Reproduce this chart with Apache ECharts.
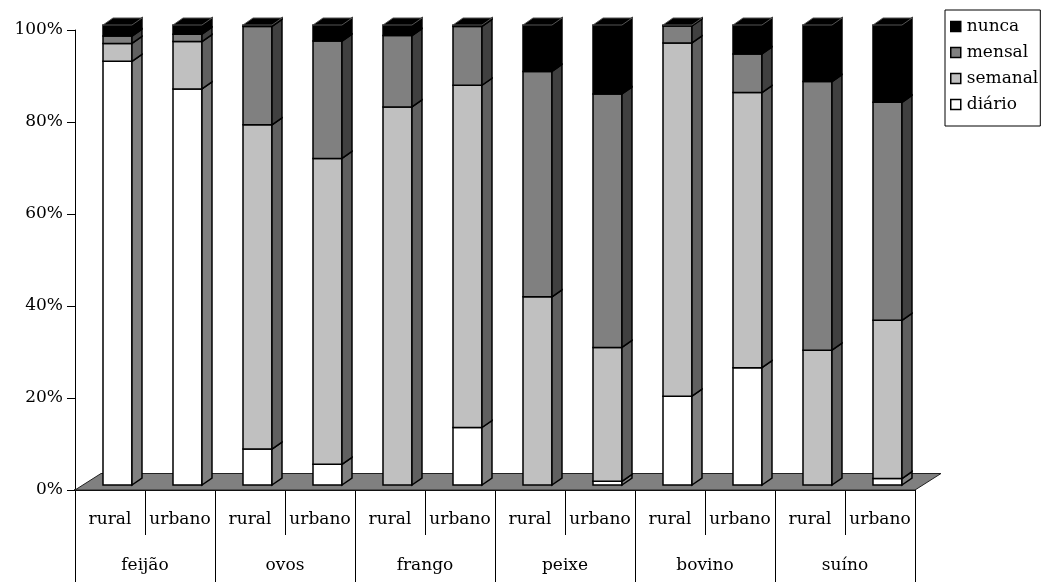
<!DOCTYPE html>
<html>
<head>
<meta charset="utf-8">
<style>
  html, body { margin: 0; padding: 0; background: #fff; }
  #chart { width: 1047px; height: 582px; }
</style>
<script src="https://cdn.jsdelivr.net/npm/echarts@6/dist/echarts.min.js"></script>
</head>
<body>
<div id="chart"></div>
<script>
// Frequência de consumo por alimento, zona rural e urbana (%)
const categories = ['rural', 'urbano', 'rural', 'urbano', 'rural', 'urbano',
                    'rural', 'urbano', 'rural', 'urbano', 'rural', 'urbano'];
const groups = ['feijão', 'ovos', 'frango', 'peixe', 'bovino', 'suíno'];

const diario  = [92.1, 86.1,  7.8,  4.5,  0.0, 12.5,  0.0,  0.8, 19.3, 25.5,  0.0,  1.4];
const semanal = [ 3.9, 10.3, 70.5, 66.5, 82.2, 74.4, 40.9, 29.1, 76.8, 59.8, 29.3, 34.4];
const mensal  = [ 1.6,  1.6, 21.4, 25.5, 15.5, 12.8, 49.0, 55.1,  3.7,  8.4, 58.4, 47.4];
const nunca   = [ 2.4,  2.0,  0.3,  3.5,  2.3,  0.3, 10.1, 15.0,  0.2,  6.3, 12.3, 16.8];

const yTicks = [0, 20, 40, 60, 80, 100];

const FONT = 'DejaVu Serif';
const FONT_SIZE = 17;

// stacked series, bottom to top
const stack = [
  { name: 'diário',  values: diario,  front: '#ffffff', side: '#808080' },
  { name: 'semanal', values: semanal, front: '#c0c0c0', side: '#606060' },
  { name: 'mensal',  values: mensal,  front: '#808080', side: '#404040' },
  { name: 'nunca',   values: nunca,   front: '#000000', side: '#000000' }
];

// cumulative [index, lower, upper] per segment
const running = categories.map(() => 0);
const stackData = stack.map(s => s.values.map((v, i) => {
  const lo = running[i];
  running[i] = lo + v;
  return [i, lo, lo + v];
}));

// 3D box: front face, right side face and (for the top segment) a lid
function boxRenderer(front, side, withTop) {
  return function (params, api) {
    const i = api.value(0), lo = api.value(1), hi = api.value(2);
    if (hi - lo <= 0) return;
    const band = api.size([1, 0])[0];
    const b = api.coord([i, lo]);
    const t = api.coord([i, hi]);
    const w = band * 0.414;
    const cx = b[0] + band * 0.107;
    const dx = band * 0.143, dy = -7;
    const x0 = cx - w / 2, x1 = cx + w / 2;
    const y0 = b[1] - 5, y1 = t[1] - 5;
    const children = [
      { type: 'rect', shape: { x: x0, y: y1, width: w, height: y0 - y1 },
        style: { fill: front, stroke: '#000', lineWidth: 1.5 } },
      { type: 'polygon', shape: { points: [[x1, y0], [x1 + dx, y0 + dy], [x1 + dx, y1 + dy], [x1, y1]] },
        style: { fill: side, stroke: '#000', lineWidth: 1.5 } }
    ];
    if (withTop) {
      children.push({ type: 'polygon',
        shape: { points: [[x0, y1], [x0 + dx, y1 + dy], [x1 + dx, y1 + dy], [x1, y1]] },
        style: { fill: '#000', stroke: '#555', lineWidth: 1 } });
    }
    return { type: 'group', children };
  };
}

// floor plane under the bars
function floorRenderer(params, api) {
  const cs = params.coordSys;
  const yb = cs.y + cs.height;
  const dx = 26, dy = -16.5;
  return {
    type: 'polygon',
    shape: { points: [[cs.x, yb], [cs.x + cs.width, yb], [cs.x + cs.width + dx, yb + dy], [cs.x + dx, yb + dy]] },
    style: { fill: '#808080', stroke: '#222', lineWidth: 1 }
  };
}

const series = [{
  type: 'custom', name: 'floor', z: 1, silent: true, clip: false,
  data: [[0, 0]], renderItem: floorRenderer
}].concat(stack.map((s, k) => ({
  type: 'custom',
  name: s.name,
  z: 2 + k,
  clip: false,
  itemStyle: { color: s.front, borderColor: '#000', borderWidth: 1.5 },
  encode: { x: 0, y: [1, 2] },
  data: stackData[k],
  renderItem: boxRenderer(s.front, s.side, k === stack.length - 1)
})));

const chart = echarts.init(document.getElementById('chart'), null, { renderer: 'canvas' });
chart.setOption({
  backgroundColor: '#fff',
  animation: false,
  textStyle: { fontFamily: FONT, color: '#000' },
  grid: { left: 75, right: 132, top: 30, bottom: 92, containLabel: false },
  legend: {
    data: ['nunca', 'mensal', 'semanal', 'diário'],
    orient: 'vertical',
    left: 945, top: 10,
    itemWidth: 10, itemHeight: 10, itemGap: 9,
    icon: 'rect',
    padding: [8, 2, 13, 5],
    borderColor: '#000', borderWidth: 1,
    backgroundColor: '#fff',
    itemStyle: { borderColor: '#000', borderWidth: 1.5 },
    textStyle: { fontFamily: FONT, fontSize: FONT_SIZE, color: '#000', lineHeight: 16, padding: [0, 0, 0, 1] },
    selectedMode: false
  },
  xAxis: [{
    type: 'category', data: categories, position: 'bottom',
    axisLine: { show: true, lineStyle: { color: '#000', width: 2 } },
    axisTick: { show: true, interval: 0, length: 45, lineStyle: { color: '#000', width: 1 } },
    axisLabel: { interval: 0, margin: 21, fontFamily: FONT, fontSize: FONT_SIZE, color: '#000' },
    splitLine: { show: false }
  }, {
    type: 'category', data: groups, position: 'bottom',
    axisLine: { show: false },
    axisTick: { show: true, interval: 0, length: 92, lineStyle: { color: '#000', width: 1 } },
    axisLabel: { interval: 0, margin: 67, fontFamily: FONT, fontSize: FONT_SIZE, color: '#000' },
    splitLine: { show: false }
  }],
  yAxis: {
    type: 'value', min: yTicks[0], max: yTicks[yTicks.length - 1], interval: 20,
    axisLine: { show: true, lineStyle: { color: '#000', width: 1 } },
    axisTick: { show: true, length: 8, lineStyle: { color: '#000' } },
    axisLabel: { formatter: '{value}%', margin: 12, fontFamily: FONT, fontSize: FONT_SIZE, color: '#000' },
    splitLine: { show: false }
  },
  series
});
</script>
</body>
</html>
